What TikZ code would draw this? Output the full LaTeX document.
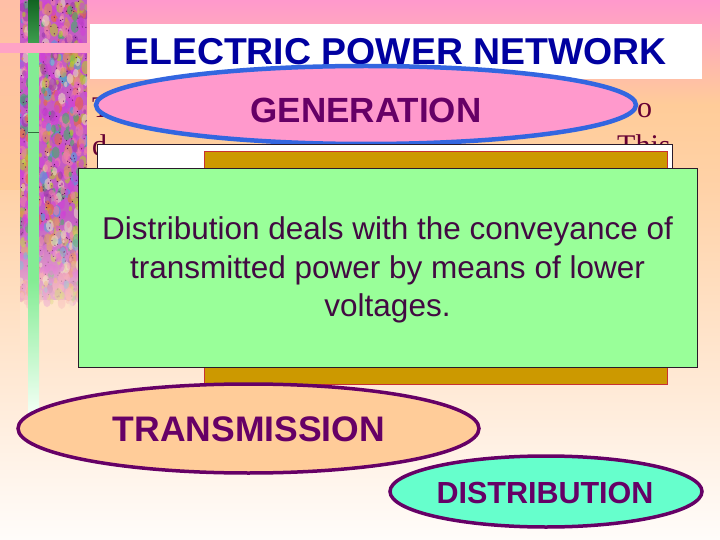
\documentclass[tikz,border=0pt]{standalone}
\usepackage{fontspec}
\setmainfont{Liberation Sans}
\newfontfamily\seriffont{Liberation Serif}
\usetikzlibrary{shapes.geometric,fadings}
\definecolor{bgpink}{HTML}{FF99CC}
\definecolor{bgpeach}{HTML}{FFCC99}
\definecolor{bgpeachb}{HTML}{FFD2A8}
\definecolor{bgwhite}{HTML}{FFFCFA}
\definecolor{leftpeach}{HTML}{FFBFA6}
\definecolor{titleblue}{HTML}{0000A0}
\definecolor{darkpurple}{HTML}{660066}
\definecolor{textpurple}{HTML}{420A42}
\definecolor{genpink}{HTML}{FF99CC}
\definecolor{genblue}{HTML}{3366E0}
\definecolor{goldbox}{HTML}{CC9900}
\definecolor{goldedge}{HTML}{C83232}
\definecolor{greenbox}{HTML}{99FF99}
\definecolor{boxedge}{HTML}{2A1A2A}
\definecolor{transpeach}{HTML}{FFCC99}
\definecolor{distcyan}{HTML}{66FFCC}
\definecolor{serifmaroon}{HTML}{660033}
\definecolor{pinkbar}{HTML}{FFA3C6}
\definecolor{darkgreenA}{HTML}{126422}
\definecolor{darkgreenB}{HTML}{3E9E4E}
\definecolor{lightgreen}{HTML}{84EC94}
\definecolor{palegreen}{HTML}{F2FFF4}
\definecolor{stripbase}{HTML}{C45CC4}
\definecolor{stripfade}{HTML}{FFE6CE}
\definecolor{tA}{HTML}{D040D8}
\definecolor{tB}{HTML}{E86A3A}
\definecolor{tC}{HTML}{3FAE66}
\definecolor{tD}{HTML}{B8CC28}
\definecolor{tE}{HTML}{4AA0DC}
\definecolor{tF}{HTML}{EE80A8}
\definecolor{tG}{HTML}{9A3AA8}
\definecolor{tH}{HTML}{D89A50}
\definecolor{tI}{HTML}{E8D8C0}
\definecolor{speck}{HTML}{5A0A5A}
\tikzfading[name=fadeup, top color=transparent!100, bottom color=transparent!0]
\pgfmathdeclarerandomlist{blobcols}{{tA}{tB}{tC}{tD}{tE}{tF}{tG}{tH}{tA}{tF}{tI}{tA}}
\tikzset{
  boxshape/.style={rectangle, inner sep=0pt, anchor=north west},
  ovalshape/.style={ellipse, inner sep=0pt},
  ovaltext/.style={text=darkpurple, inner sep=0pt},
  serifbit/.style={font=\seriffont\fontsize{30}{32}\selectfont, text=serifmaroon, inner sep=0pt, anchor=base west},
  bodyline/.style={font=\fontsize{31.5}{36}\selectfont, text=textpurple, inner sep=0pt, anchor=base}
}
\begin{document}
\begin{tikzpicture}[x=1pt,y=-1pt]
\useasboundingbox (0,0) rectangle (720,540);
% background
\fill[top color=bgpink, bottom color=bgpeach] (0,0) rectangle (720,105);
\fill[top color=bgpeach, bottom color=bgpeachb] (0,105) rectangle (720,190);
\fill[top color=bgpeachb, bottom color=bgwhite] (0,190) rectangle (720,540);
\fill[top color=leftpeach, bottom color=bgpeach] (0,0) rectangle (20,190);
% textured strip
\begin{scope}
\clip (20,0) rectangle (87,345);
\fill[stripbase] (20,0) rectangle (87,300);
\pgfmathsetseed{12}
\foreach \i in {1,...,900}{
  \pgfmathsetmacro{\bx}{20+67*rnd}
  \pgfmathsetmacro{\by}{305*rnd}
  \pgfmathsetmacro{\br}{1+3.2*rnd}
  \pgfmathrandomitem{\bc}{blobcols}
  \fill[\bc, opacity=0.6] (\bx,\by) ellipse [x radius=\br, y radius=1.6*\br];
}
\foreach \i in {1,...,260}{
  \pgfmathsetmacro{\bx}{20+67*rnd}
  \pgfmathsetmacro{\by}{300*rnd}
  \fill[speck] (\bx,\by) circle [radius=0.6];
}
\fill[stripfade, path fading=fadeup] (20,215) rectangle (87,346);
\end{scope}
% green bar
\fill[top color=darkgreenA, bottom color=darkgreenB] (28,0) rectangle (39,43);
\fill[lightgreen] (28,53) rectangle (39,280);
\fill[top color=lightgreen, bottom color=palegreen] (28,280) rectangle (39,412);
\draw[darkgreenA!70!gray, line width=0.8pt] (28,132) -- (39,132);
% pink bar
\fill[pinkbar] (0,43) rectangle (90,53);
% title
\node[boxshape, fill=white, minimum width=612, minimum height=55] (titlebox) at (90,24) {};
\node[font=\bfseries\fontsize{37.4}{40}\selectfont, text=titleblue, inner sep=0pt] (title) at (395.5,51.5) {ELECTRIC POWER NETWORK};
% partly hidden serif text
\node[serifbit] (s1) at (92,118) {T};
\node[serifbit] (s2) at (637,118) {o};
\node[serifbit] (s3) at (92,155.5) {d};
\node[serifbit] (s4) at (617,155.5) {This};
% generation
\node[ovalshape, fill=genpink, draw=genblue, line width=4.5pt, minimum width=540, minimum height=78] (gen) at (366,105) {};
\node[ovaltext, font=\bfseries\fontsize{35}{38}\selectfont] (gentext) at (366,110.5) {GENERATION};
% stacked boxes
\node[boxshape, fill=white, draw=boxedge, line width=1pt, minimum width=575, minimum height=200] (whitebox) at (97,144) {};
\node[boxshape, fill=goldbox, draw=goldedge, line width=1pt, minimum width=463, minimum height=233] (goldbox) at (204,151) {};
\node[boxshape, fill=greenbox, draw=boxedge, line width=1pt, minimum width=619, minimum height=199] (greenbox) at (78,168) {};
\node[bodyline] (l1) at (387.5,240) {Distribution deals with the conveyance of};
\node[bodyline] (l2) at (387.5,278) {transmitted power by means of lower};
\node[bodyline] (l3) at (387.5,316) {voltages.};
% transmission
\node[ovalshape, fill=transpeach, draw=darkpurple, line width=3.5pt, minimum width=461, minimum height=89] (trans) at (248.5,428.5) {};
\node[ovaltext, font=\bfseries\fontsize{35.5}{38}\selectfont] (transtext) at (249,429) {TRANSMISSION};
% distribution
\node[ovalshape, fill=distcyan, draw=darkpurple, line width=3.5pt, minimum width=312, minimum height=71] (dist) at (546,491.5) {};
\node[ovaltext, font=\bfseries\fontsize{30.5}{34}\selectfont] (disttext) at (545,492.5) {DISTRIBUTION};
\end{tikzpicture}
\end{document}
